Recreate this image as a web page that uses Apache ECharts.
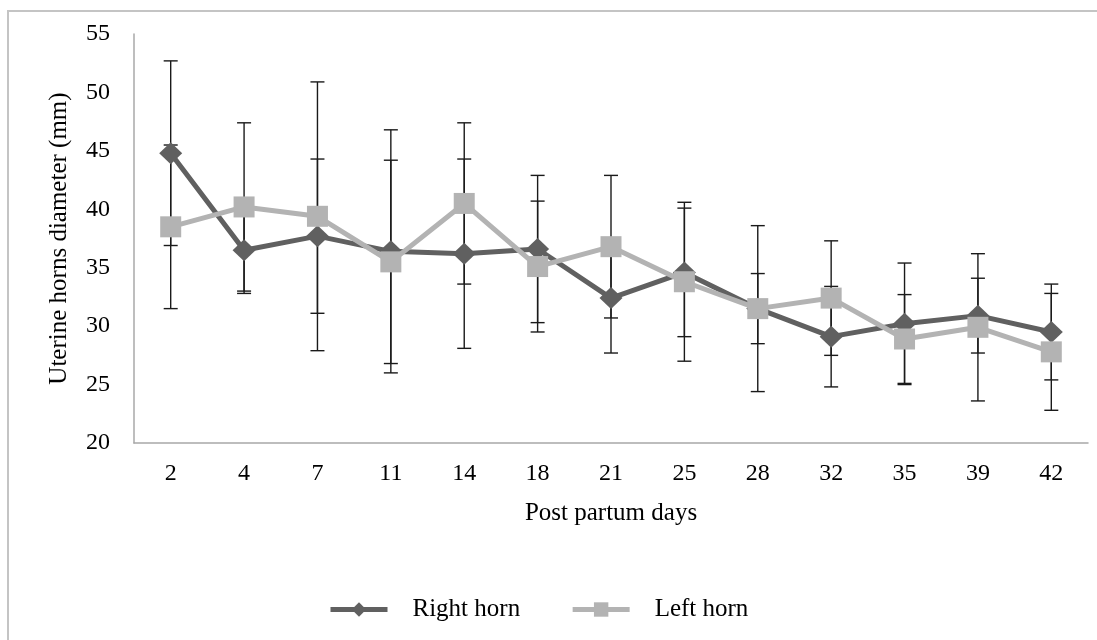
<!DOCTYPE html>
<html>
<head>
<meta charset="utf-8">
<script src="https://cdn.jsdelivr.net/npm/echarts@6/dist/echarts.min.js"></script>
<style>html,body{margin:0;padding:0;background:#fff}#c{width:1097px;height:640px}</style>
</head>
<body>
<div id="c"></div>
<script>
const days = ['2','4','7','11','14','18','21','25','28','32','35','39','42'];
const rightHorn = [44.8, 36.5, 37.7, 36.4, 36.2, 36.6, 32.4, 34.6, 31.5, 29.1, 30.2, 30.9, 29.5];
const rightErr  = [7.9, 3.7, 6.6, 10.4, 8.1, 6.3, 4.7, 5.5, 3.0, 4.3, 5.2, 3.2, 4.1];
const leftHorn  = [38.5, 40.2, 39.4, 35.5, 40.5, 35.1, 36.8, 33.8, 31.5, 32.4, 28.9, 29.9, 27.8];
const leftErr   = [7.0, 7.2, 11.5, 8.7, 6.9, 5.6, 6.1, 6.8, 7.1, 4.9, 3.8, 6.3, 5.0];
const yTicks = {min: 20, max: 55, interval: 5};

const FONT = 'Liberation Serif';
function errData(vals, errs) {
  return vals.map((v, i) => [i, v - errs[i], v + errs[i]]);
}
function renderErr(params, api) {
  const x = api.value(0);
  const lo = api.coord([x, api.value(1)]);
  const hi = api.coord([x, api.value(2)]);
  const hw = 7;
  const st = {stroke: '#1a1a1a', lineWidth: 1.4};
  return {type: 'group', children: [
    {type: 'line', shape: {x1: lo[0], y1: lo[1], x2: hi[0], y2: hi[1]}, style: st},
    {type: 'line', shape: {x1: lo[0]-hw, y1: lo[1], x2: lo[0]+hw, y2: lo[1]}, style: st},
    {type: 'line', shape: {x1: hi[0]-hw, y1: hi[1], x2: hi[0]+hw, y2: hi[1]}, style: st}
  ]};
}

const chart = echarts.init(document.getElementById('c'), null, {renderer: 'canvas'});
chart.setOption({
  animation: false,
  backgroundColor: '#fff',
  graphic: [{type: 'rect', shape: {x: 8, y: 11, width: 1300, height: 900},
    style: {fill: 'none', stroke: '#c4c4c4', lineWidth: 2}, z: 0}],
  grid: {left: 134, right: 9, top: 34, bottom: 197},
  legend: {
    left: 323, top: 592, itemWidth: 57, itemHeight: 18, itemGap: 50,
    lineStyle: {width: 5},
    textStyle: {fontFamily: FONT, fontSize: 25, color: '#000', padding: [0, 0, 4, 20]},
    data: ['Right horn', 'Left horn']
  },
  xAxis: {
    type: 'category', data: days, boundaryGap: true,
    name: 'Post partum days', nameLocation: 'middle', nameGap: 58,
    nameTextStyle: {fontFamily: FONT, fontSize: 25, color: '#000', verticalAlign: 'top'},
    axisLine: {lineStyle: {color: '#a8a8a8', width: 1.5}},
    axisTick: {show: false},
    axisLabel: {fontFamily: FONT, fontSize: 24, color: '#000', margin: 19}
  },
  yAxis: {
    type: 'value', min: yTicks.min, max: yTicks.max, interval: yTicks.interval,
    name: 'Uterine horns diameter (mm)', nameLocation: 'middle', nameGap: 62,
    nameTextStyle: {fontFamily: FONT, fontSize: 25, color: '#000'},
    axisLine: {show: true, lineStyle: {color: '#a8a8a8', width: 1.5}},
    axisTick: {show: false},
    splitLine: {show: false},
    axisLabel: {fontFamily: FONT, fontSize: 24, color: '#000', margin: 24}
  },
  series: [
    {type: 'custom', name: 'errR', renderItem: renderErr, data: errData(rightHorn, rightErr), z: 1, silent: true},
    {type: 'custom', name: 'errL', renderItem: renderErr, data: errData(leftHorn, leftErr), z: 1, silent: true},
    {type: 'line', name: 'Right horn', data: rightHorn, z: 3,
      symbol: 'diamond', symbolSize: [23, 22], showAllSymbol: true,
      itemStyle: {color: '#606060'}, lineStyle: {color: '#606060', width: 5}},
    {type: 'line', name: 'Left horn', data: leftHorn, z: 4,
      symbol: 'rect', symbolSize: [21, 21], showAllSymbol: true,
      itemStyle: {color: '#b3b3b3'}, lineStyle: {color: '#b3b3b3', width: 5}}
  ]
});
</script>
</body>
</html>
